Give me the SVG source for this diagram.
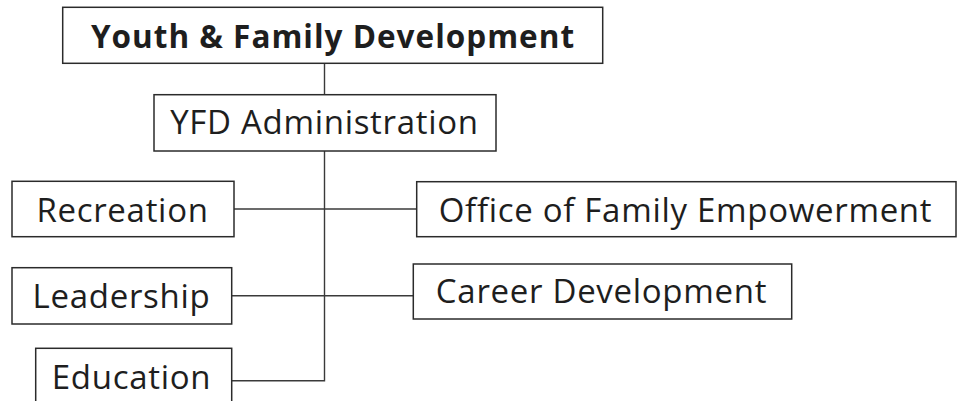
<svg xmlns="http://www.w3.org/2000/svg" width="961" height="401" viewBox="0 0 961 401">
  <style>
    .box { fill: #ffffff; stroke: #2b2b2b; stroke-width: 1.5; }
    .lbl { font-family: "Open Sans", "Noto Sans", "DejaVu Sans", sans-serif; font-size: 33px; letter-spacing: 0.7px; fill: #1e1e1e; text-anchor: middle; }
    .title { font-family: "Open Sans", "Noto Sans", "DejaVu Sans", sans-serif; font-size: 31.5px; letter-spacing: 1px; font-weight: bold; fill: #1e1e1e; text-anchor: middle; }
    .conn { stroke: #3a3a3a; stroke-width: 1.4; fill: none; }
  </style>
  <rect width="961" height="401" fill="#ffffff"/>
  <g id="connectors">
    <line class="conn" x1="324.5" y1="63.5" x2="324.5" y2="94.7"/>
    <polyline class="conn" points="324.5,151 324.5,380.7 231.7,380.7"/>
    <line class="conn" x1="234" y1="209" x2="416.7" y2="209"/>
    <line class="conn" x1="231.7" y1="295.7" x2="413.3" y2="295.7"/>
  </g>
  <g id="youth-family-development">
    <rect class="box" x="62.7" y="7.3" width="540" height="56"/>
    <text class="title" x="333" y="48">Youth &amp; Family Development</text>
  </g>
  <g id="yfd-administration">
    <rect class="box" x="154" y="94.7" width="342" height="56.3"/>
    <text class="lbl" x="324.5" y="134">YFD Administration</text>
  </g>
  <g id="recreation">
    <rect class="box" x="12" y="181.3" width="222" height="55.4"/>
    <text class="lbl" x="122.5" y="221.7">Recreation</text>
  </g>
  <g id="leadership">
    <rect class="box" x="12" y="267.7" width="219.7" height="56.3"/>
    <text class="lbl" x="121.5" y="308.3">Leadership</text>
  </g>
  <g id="education">
    <rect class="box" x="35.7" y="348.3" width="196" height="60"/>
    <text class="lbl" x="131.5" y="389">Education</text>
  </g>
  <g id="office-of-family-empowerment">
    <rect class="box" x="416.7" y="181.7" width="539.3" height="55"/>
    <text class="lbl" x="685.5" y="221.7">Office of Family Empowerment</text>
  </g>
  <g id="career-development">
    <rect class="box" x="413.3" y="264" width="378.4" height="55"/>
    <text class="lbl" x="601.5" y="302.7">Career Development</text>
  </g>
</svg>
